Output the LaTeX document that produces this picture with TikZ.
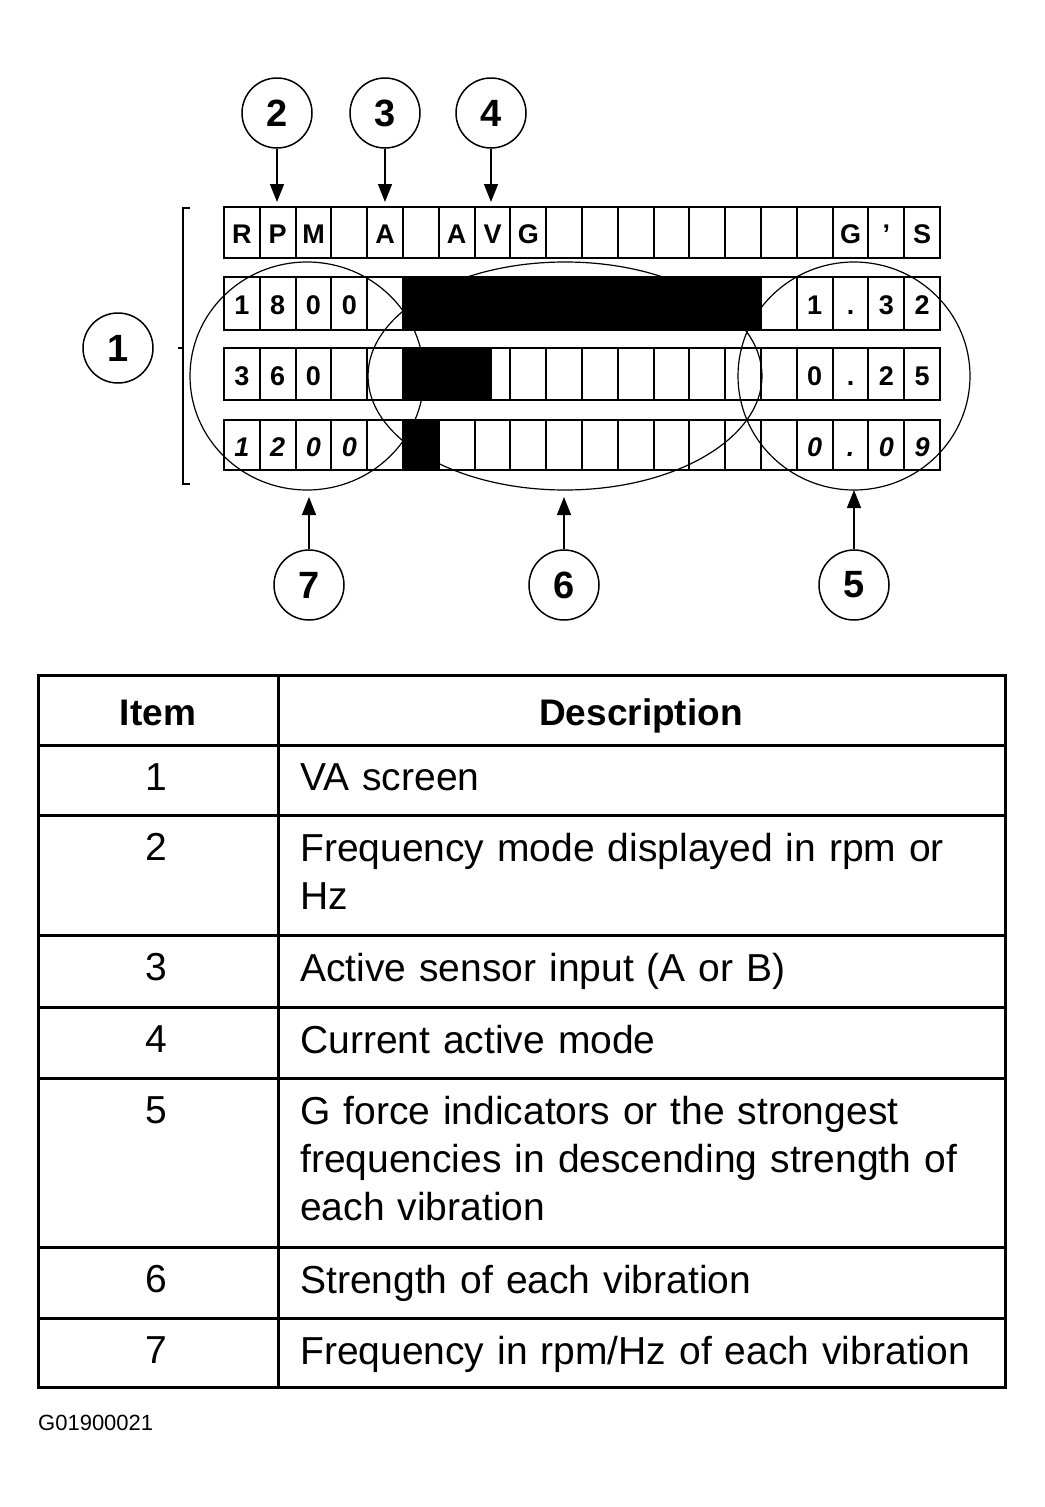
\documentclass[tikz,border=0pt]{standalone}
\usepackage{fontspec}
\setmainfont{Liberation Sans}
\usetikzlibrary{arrows.meta}
\tikzset{callout/.style={draw=black,circle,line width=1.5pt,minimum size=70pt,inner sep=0pt,font=\fontsize{38}{38}\selectfont\bfseries}}
\tikzset{cellchar/.style={font=\fontsize{27}{27}\selectfont\bfseries,anchor=base}}
\tikzset{tabtext/.style={font=\fontsize{39}{48}\selectfont,anchor=north west,align=left,text width=700pt,inner sep=0pt}}
\tikzset{tabnum/.style={font=\fontsize{39}{48}\selectfont,anchor=north,inner sep=0pt}}
\begin{document}
\begin{tikzpicture}[x=1pt,y=-1pt]
\tikzset{pointer/.style={-{Triangle[length=18pt,width=14pt]},line width=1.5pt}}
\useasboundingbox (0,0) rectangle (1044,1507);
% display rows
\def\cw{35.8}
\foreach \top/\bot in {207/258,277/330,348/400,420/470}{
  \foreach \i in {0,...,19}
    \draw[line width=2pt] ({224+\i*\cw},\top) rectangle ({224+(\i+1)*\cw},\bot);
}
\foreach \c/\t in {0/R,1/P,2/M,4/A,6/A,7/V,8/G,17/G,18/’,19/S}
  \node[cellchar] at ({224+(\c+0.5)*\cw},243) {\t};
\foreach \c/\t in {0/1,1/8,2/0,3/0,16/1,17/.,18/3,19/2}
  \node[cellchar] at ({224+(\c+0.5)*\cw},314) {\t};
\foreach \c/\t in {0/3,1/6,2/0,16/0,17/.,18/2,19/5}
  \node[cellchar] at ({224+(\c+0.5)*\cw},385) {\t};
\foreach \c/\t in {0/1,1/2,2/0,3/0,16/0,17/.,18/0,19/9}
  \node[cellchar,font=\fontsize{27}{27}\selectfont\bfseries\itshape] at ({224+(\c+0.5)*\cw},456) {\t};
% strength bars
\fill (403,277) rectangle (761,330);
\fill (403,348) rectangle (492,400);
\fill (403,420) rectangle (440,470);
% groups
\draw[line width=1.2pt] (307,376) ellipse [x radius=117,y radius=114];
\draw[line width=1.2pt] (565,376) ellipse [x radius=197,y radius=114];
\draw[line width=1.2pt] (854,376) ellipse [x radius=116,y radius=114];
% bracket
\draw[line width=2pt] (190,208) -- (183,208) -- (183,484) -- (190,484);
\draw[line width=2pt] (183,348) -- (178,348);
% callouts
\node[callout] (c1) at (118,348) {1};
\node[callout] (c2) at (277,113) {2};
\node[callout] (c3) at (385,113) {3};
\node[callout] (c4) at (491,113) {4};
\node[callout] (c7) at (309,585) {7};
\node[callout] (c6) at (564,585) {6};
\node[callout] (c5) at (854,585) {5};
\coordinate (p2) at (277,202);
\coordinate (p3) at (385,202);
\coordinate (p4) at (491,202);
\coordinate (p7) at (309,497);
\coordinate (p6) at (564,497);
\coordinate (p5) at (854,490);
\foreach \n in {2,3,4,7,6,5}
  \draw[pointer] (c\n) -- (p\n);
% table
\draw[line width=3pt] (38,675) rectangle (1005,1387);
\draw[line width=3pt] (278,675) -- (278,1387);
\foreach \y in {745,815,935,1007,1078,1247,1318}
  \draw[line width=3pt] (38,\y) -- (1005,\y);
\node[font=\fontsize{37}{37}\selectfont\bfseries,anchor=base] (hitem) at (158,725) {Item};
\node[font=\fontsize{37}{37}\selectfont\bfseries,anchor=base] (hdesc) at (641,725) {Description};
\foreach \y/\n/\t in {763/1/{VA screen},
  833/2/{Frequency mode displayed in rpm or\\Hz},
  953/3/{Active sensor input (A or B)},
  1025/4/{Current active mode},
  1096/5/{G force indicators or the strongest\\frequencies in descending strength of\\each vibration},
  1265/6/{Strength of each vibration},
  1336/7/{Frequency in rpm/Hz of each vibration}}{
  \node[tabnum] at (156,\y) {\n};
  \node[tabtext] at (300,\y) {\t};
}
\node[font=\fontsize{22}{22}\selectfont,anchor=west,inner sep=0pt] (code) at (38,1423) {G01900021};
\end{tikzpicture}
\end{document}
